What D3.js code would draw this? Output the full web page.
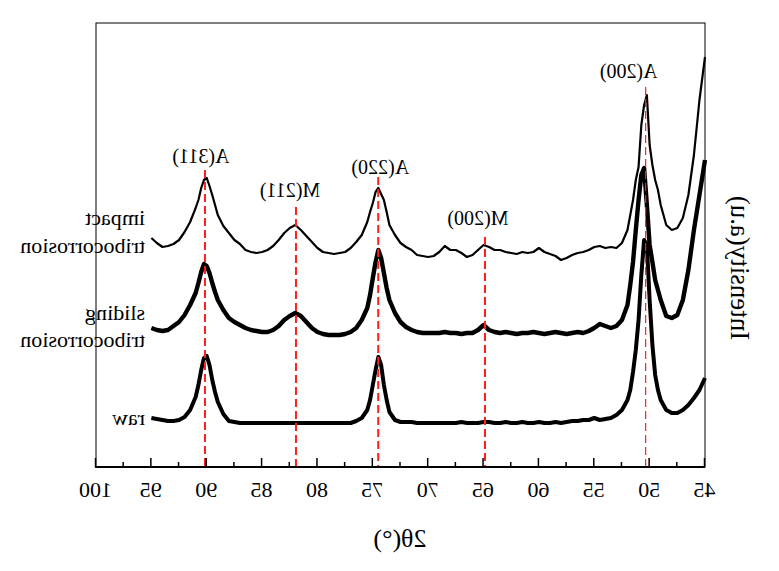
<!DOCTYPE html>
<html><head><meta charset="utf-8">
<script src="https://cdn.jsdelivr.net/npm/d3@7"></script>
<style>body{margin:0;background:#fff}svg{display:block}text{font-family:"Liberation Serif","Times New Roman",serif;fill:#000}</style>
</head><body>
<script>
// ---------- data ----------
const thetas = [45,45.5,46,46.5,47,47.5,48,48.5,49,
  49.25,49.5,49.75,50,50.25,50.5,50.75,51,51.25,51.5,51.75,
  52,52.5,53,53.5,54,54.5,55,55.5,56,56.5,57,57.5,58,58.5,59,59.5,60,60.5,61,61.5,62,62.5,63,63.5,64,64.5,65,65.5,66,66.5,67,67.5,68,68.5,69,69.5,70,70.5,71,71.5,72,72.5,73,73.5,
  73.75,74,74.25,74.5,74.75,75,75.25,
  75.5,76,76.5,77,77.5,78,78.5,79,79.5,80,80.5,81,81.5,82,82.5,83,83.5,84,84.5,85,85.5,86,86.5,87,87.5,88,88.5,89,
  89.25,89.5,89.75,90,90.25,90.5,90.75,
  91,91.5,92,92.5,93,93.5,94,94.5,95];

const impactSeries = [410,367,312,272,249,239,237,242,262,
  277,287,302,322,372,362,342,300,287,267,252,
  237,224,219,220,219,221,220,217,215,214,212,209,207,211,213,215,219,215,214,215,213,214,215,217,217,220,222,217,212,210,214,217,217,221,215,211,210,211,212,217,220,224,232,242,
  255,267,273,279,275,264,255,
  245,232,225,219,215,214,213,214,215,219,225,231,237,242,239,234,227,221,217,215,214,215,217,223,227,234,241,252,
  262,272,281,289,287,279,267,
  259,245,235,227,223,221,220,224,229];

const slidingSeries = [307,272,237,197,167,152,149,151,167,
  177,187,205,222,262,299,292,267,237,205,182,
  162,147,141,139,141,143,139,136,134,135,134,133,134,135,134,133,134,135,134,134,133,134,135,134,135,137,142,137,134,134,133,134,134,135,134,134,134,134,135,137,140,145,154,167,
  179,194,209,217,205,189,172,
  159,147,139,135,133,132,132,132,133,135,139,145,151,154,151,147,141,137,135,135,136,137,139,142,145,149,157,167,
  175,184,194,201,203,195,184,
  174,162,152,145,141,137,136,137,139];

const rawSeries = [89,77,69,62,57,54,54,57,67,
  77,92,122,167,222,227,192,147,117,95,77,
  67,57,52,49,48,47,49,47,47,46,46,45,44,45,44,44,45,44,44,45,44,44,45,44,44,45,45,44,44,44,45,44,44,44,44,44,44,44,44,45,45,45,47,55,
  67,82,102,110,97,82,67,
  57,49,46,44,44,44,44,44,44,44,44,44,44,44,44,44,44,44,44,44,44,44,44,44,45,46,53,65,
  75,87,102,111,109,97,82,
  70,57,50,47,46,46,47,48,49];

const majorTicks = [45,50,55,60,65,70,75,80,85,90,95,100];
const minorTicks = [47.5,52.5,57.5,62.5,67.5,72.5,77.5,82.5,87.5,92.5,97.5];
const peakNames  = ["A(200)","M(200)","A(220)","M(211)","A(311)"];
const peakThetas = [50.36,64.87,74.51,81.94,90.16];
const peakTops   = [380,230,290,260,297];
const seriesLabels = [["raw"],["sliding","tribocorrosion"],["impact","tribocorrosion"]];
const xTitle = "2θ(°)";
const yTitle = "Intensity(a.u)";

// ---------- layout ----------
const W = 779, H = 571;
const L = 74, R = 683, T = 23, B = 467;
const peakLabelDx = [17,7,-2,6,4];
const peakLabelDy = [-9,-12,-3,-10,-7];
const peakLineW   = [1.2,2,2,2,2];
const seriesLabelX = 634;
const seriesLabelY = [[425],[320,347],[225,253]];
const seriesStroke = [4,4.4,2.2];

const svg = d3.select("body").append("svg").attr("width", W).attr("height", H);
// the reference picture is a mirror image: draw normally, then flip horizontally
const g = svg.append("g").attr("transform", `translate(${W},0) scale(-1,1)`);

const x = d3.scaleLinear().domain([45, 100]).range([L, R]);
const y = d3.scaleLinear().domain([0, 444]).range([B, T]);

// frame
g.append("rect").attr("x", L).attr("y", T).attr("width", R - L).attr("height", B - T)
  .attr("fill", "none").attr("stroke", "#000").attr("stroke-width", 1);

// series
const allSeries = [rawSeries, slidingSeries, impactSeries];
const line = d3.line().x((d, i) => x(thetas[i])).y(d => y(d));
allSeries.forEach((s, k) => {
  g.append("path").datum(s).attr("d", line).attr("fill", "none")
    .attr("stroke", "#000").attr("stroke-width", seriesStroke[k]).attr("stroke-linejoin", "round");
});

// peak marker lines
peakThetas.forEach((t, i) => {
  g.append("line").attr("x1", x(t)).attr("x2", x(t)).attr("y1", y(peakTops[i])).attr("y2", B)
    .attr("stroke", "#ff1f1f").attr("stroke-width", peakLineW[i]).attr("stroke-dasharray", "8,4");
  g.append("text").attr("x", x(t) + peakLabelDx[i]).attr("y", y(peakTops[i]) + peakLabelDy[i])
    .attr("text-anchor", "middle").attr("font-size", 20).text(peakNames[i]);
});

// axes
const xAxis = d3.axisBottom(x).tickValues(majorTicks).tickFormat(d3.format("d"))
  .tickSizeInner(-9).tickSizeOuter(0).tickPadding(14);
const ax = g.append("g").attr("transform", `translate(0,${B})`).call(xAxis);
ax.select(".domain").remove();
ax.selectAll(".tick line").attr("stroke-width", 1.5);
ax.selectAll(".tick text").attr("font-size", 22).attr("font-family", "Liberation Serif");
const xMinor = d3.axisBottom(x).tickValues(minorTicks).tickFormat("").tickSizeInner(-5).tickSizeOuter(0);
const axm = g.append("g").attr("transform", `translate(0,${B})`).call(xMinor);
axm.select(".domain").remove();
axm.selectAll(".tick line").attr("stroke-width", 1.5);
g.append("line").attr("x1", L).attr("x2", R + 1).attr("y1", B).attr("y2", B)
  .attr("stroke", "#000").attr("stroke-width", 2);

// series labels
seriesLabels.forEach((lines, k) => {
  lines.forEach((txt, j) => {
    g.append("text").attr("x", seriesLabelX).attr("y", seriesLabelY[k][j])
      .attr("font-size", 22).text(txt);
  });
});

// axis titles
g.append("text").attr("x", W - 400).attr("y", 547).attr("text-anchor", "middle")
  .attr("font-size", 26).text(xTitle);
g.append("text").attr("transform", `translate(${W - 740},268) rotate(-90)`)
  .attr("text-anchor", "middle").attr("dy", "0.35em").attr("font-size", 27).text(yTitle);
</script>
</body></html>
